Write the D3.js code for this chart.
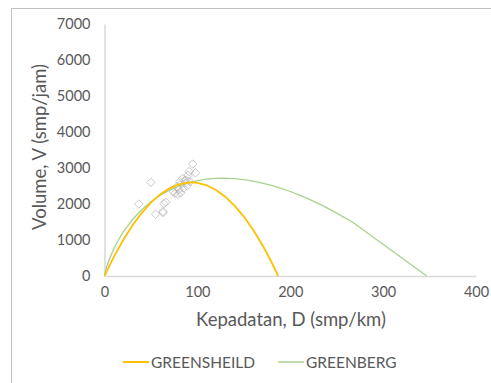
<!DOCTYPE html>
<html>
<head>
<meta charset="utf-8">
<script src="https://cdn.jsdelivr.net/npm/d3@7"></script>
<style>
  body { margin: 0; background: #fff; }
  text { font-family: "Lato", "DejaVu Sans", sans-serif; fill: #595959; }
</style>
</head>
<body>
<div id="chart"></div>
<script>
// observed points (density D, volume V)
var obsD = [37, 50, 55, 63, 64, 66, 63, 74, 78, 79, 81, 84, 87, 88, 90, 95, 98, 91, 82, 89, 85, 83, 86, 80, 76, 92];
var obsV = [2000, 2600, 1720, 1790, 2010, 2050, 1760, 2340, 2480, 2270, 2620, 2710, 2580, 2670, 2800, 3110, 2870, 2900, 2310, 2500, 2440, 2560, 2640, 2400, 2300, 2620];

// greenshield curve
var gsD = [0, 5, 10, 20, 30, 40, 50, 60, 70, 80, 90, 95, 100, 110, 120, 130, 140, 150, 160, 170, 175, 180, 184, 187];
var gsV = [0, 270, 526, 993, 1400, 1748, 2037, 2266, 2435, 2545, 2596, 2602, 2587, 2519, 2391, 2204, 1957, 1651, 1285, 860, 625, 375, 160, 0];

// greenberg curve
var gbD = [0, 1, 3, 5, 10, 15, 20, 30, 40, 50, 60, 70, 80, 90, 100, 110, 120, 128, 140, 150, 160, 170, 180, 190, 200, 210, 220, 230, 240, 250, 268, 347];
var gbV = [0, 125, 310, 450, 755, 1000, 1216, 1564, 1841, 2063, 2243, 2387, 2500, 2587, 2650, 2690, 2714, 2720, 2706, 2680, 2638, 2583, 2516, 2437, 2347, 2246, 2135, 2015, 1885, 1747, 1480, 0];

var xTicks = [0, 100, 200, 300, 400];
var yTicks = [0, 1000, 2000, 3000, 4000, 5000, 6000, 7000];
var seriesNames = ["GREENSHEILD", "GREENBERG"];
var seriesColors = ["#ffc000", "#a9d18e"];

var svgWidth = 491, svgHeight = 383;
var margin = { top: 24, right: 15, bottom: 107, left: 104.5 };
var width = svgWidth - margin.left - margin.right;
var height = svgHeight - margin.top - margin.bottom;

var svg = d3.select("#chart").append("svg")
    .attr("width", svgWidth)
    .attr("height", svgHeight);

// chart area border (cut off at right and bottom)
svg.append("path")
    .attr("d", "M11.5," + svgHeight + "V8.5H" + svgWidth)
    .attr("fill", "none")
    .attr("stroke", "#bfbfbf")
    .attr("stroke-width", 1);

var g = svg.append("g")
    .attr("transform", "translate(" + margin.left + "," + margin.top + ")");

var x = d3.scaleLinear().domain([0, 400]).range([0, width]);
var y = d3.scaleLinear().domain([0, 7000]).range([height, 0]);

// axes
var xAxis = g.append("g")
    .attr("transform", "translate(0," + height + ")")
    .call(d3.axisBottom(x).tickValues(xTicks).tickFormat(d3.format("d")).tickSize(0).tickPadding(11));
xAxis.select(".domain").attr("stroke", "#d9d9d9").attr("stroke-width", 1.5);

var yAxis = g.append("g")
    .call(d3.axisLeft(y).tickValues(yTicks).tickFormat(d3.format("d")).tickSize(0).tickPadding(14));
yAxis.select(".domain").attr("stroke", "#d9d9d9").attr("stroke-width", 1.5);

g.selectAll(".tick text")
    .attr("font-size", 14.5)
    .attr("fill", "#595959")
    .style("font-family", "Lato, DejaVu Sans, sans-serif");

// observed markers
var obs = obsD.map(function(d, i) { return { d: d, v: obsV[i] }; });
g.selectAll(".obs")
    .data(obs)
    .enter().append("path")
    .attr("class", "obs")
    .attr("d", d3.symbol().type(d3.symbolDiamond2).size(45))
    .attr("transform", function(p) { return "translate(" + x(p.d) + "," + y(p.v) + ")"; })
    .attr("fill", "none")
    .attr("stroke", "#b0b0b0")
    .attr("stroke-opacity", 0.7)
    .attr("stroke-width", 1);

var line = d3.line()
    .x(function(p) { return x(p[0]); })
    .y(function(p) { return y(p[1]); });

g.append("path")
    .datum(gbD.map(function(d, i) { return [d, gbV[i]]; }))
    .attr("fill", "none")
    .attr("stroke", seriesColors[1])
    .attr("stroke-width", 1.3)
    .attr("d", line);

g.append("path")
    .datum(gsD.map(function(d, i) { return [d, gsV[i]]; }))
    .attr("fill", "none")
    .attr("stroke", seriesColors[0])
    .attr("stroke-width", 1.8)
    .attr("d", line);

// axis titles
svg.append("text")
    .attr("x", 291)
    .attr("y", 326)
    .attr("text-anchor", "middle")
    .attr("font-size", 18.5)
    .text("Kepadatan, D (smp/km)");

svg.append("text")
    .attr("transform", "translate(46,147) rotate(-90)")
    .attr("text-anchor", "middle")
    .attr("font-size", 18.5)
    .text("Volume, V (smp/jam)");

// legend
var legendX = [123, 278];
var leg = svg.selectAll(".leg")
    .data(seriesNames)
    .enter().append("g")
    .attr("class", "leg")
    .attr("transform", function(d, i) { return "translate(" + legendX[i] + ",362)"; });

leg.append("line")
    .attr("x1", 0).attr("x2", 26)
    .attr("stroke", function(d, i) { return seriesColors[i]; })
    .attr("stroke-width", function(d, i) { return i === 0 ? 2 : 1.5; });

leg.append("text")
    .attr("x", 28)
    .attr("y", 5.5)
    .attr("font-size", 15.5)
    .text(function(d) { return d; });
</script>
</body>
</html>
